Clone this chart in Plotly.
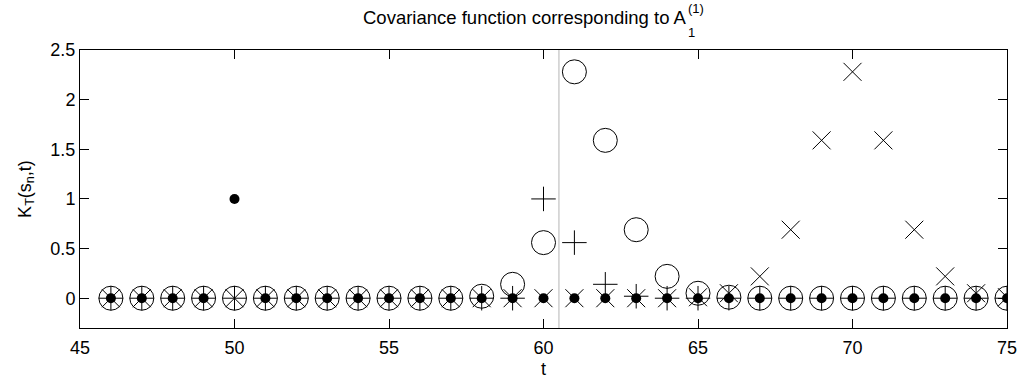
import plotly.graph_objects as go

# time index
t = list(range(46, 76))

# reference covariance (filled dots): unit value at t = 50
k_dot = [0, 0, 0, 0, 1, 0, 0, 0, 0, 0,
         0, 0, 0, 0, 0, 0, 0, 0, 0, 0,
         0, 0, 0, 0, 0, 0, 0, 0, 0, 0]

# plus markers
k_plus = [0, 0, 0, 0, 0, 0, 0, 0, 0, 0,
          0, 0, 0, 0, 1.0, 0.56, 0.14, 0.02, 0, 0,
          0, 0, 0, 0, 0, 0, 0, 0, 0, 0]

# open circles
k_circ = [0, 0, 0, 0, 0, 0, 0, 0, 0, 0,
          0, 0, 0.02, 0.14, 0.56, 2.28, 1.59, 0.69, 0.22, 0.05,
          0.01, 0, 0, 0, 0, 0, 0, 0, 0, 0]

# crosses
k_x = [0, 0, 0, 0, 0, 0, 0, 0, 0, 0,
       0, 0, 0, 0, 0, 0, 0, 0, 0, 0.01,
       0.05, 0.22, 0.69, 1.59, 2.28, 1.59, 0.69, 0.22, 0.05, 0.01]

split_t = 60.5

FONT = "Liberation Sans, Arial, Helvetica, sans-serif"
W, H = 1023, 379
L, R, T, B = 80, 16, 50, 51
PW, PH = W - L - R, H - T - B

fig = go.Figure()
fig.add_trace(go.Scatter(x=t, y=k_circ, mode="markers", name="circle",
                         marker=dict(symbol="circle-open", size=24, color="black",
                                     line=dict(width=1, color="black"))))
fig.add_trace(go.Scatter(x=t, y=k_plus, mode="markers", name="plus",
                         marker=dict(symbol="cross-thin-open", size=17.5, color="black",
                                     line=dict(width=1, color="black"))))
fig.add_trace(go.Scatter(x=t, y=k_x, mode="markers", name="x",
                         marker=dict(symbol="x-thin-open", size=18, color="black",
                                     line=dict(width=1, color="black"))))
fig.add_trace(go.Scatter(x=t, y=k_dot, mode="markers", name="dot",
                         marker=dict(symbol="circle", size=10, color="black",
                                     line=dict(width=0))))

# vertical separator
fig.add_shape(type="line", xref="x", yref="paper", x0=split_t, x1=split_t, y0=0, y1=1,
              line=dict(color="#b4b4b4", width=1), layer="below")


def px_x(p):
    return (p - L) / PW


def px_y(p):
    return 1 + (T - p) / PH


# title with stacked sub/superscript on A
fig.add_annotation(text="Covariance function corresponding to A", xref="paper", yref="paper",
                   x=px_x(688), y=px_y(17), xanchor="right", yanchor="middle", borderpad=0,
                   showarrow=False, font=dict(family=FONT, size=18.5, color="#000000"))
fig.add_annotation(text="(1)", xref="paper", yref="paper",
                   x=px_x(687), y=px_y(8), xanchor="left", yanchor="middle", borderpad=0,
                   showarrow=False, font=dict(family=FONT, size=13, color="#000000"))
fig.add_annotation(text="1", xref="paper", yref="paper",
                   x=px_x(687), y=px_y(33), xanchor="left", yanchor="middle", borderpad=0,
                   showarrow=False, font=dict(family=FONT, size=13, color="#000000"))

axis_common = dict(showline=True, linecolor="black", linewidth=1, mirror="ticks",
                   ticks="inside", ticklen=9, tickwidth=1, tickcolor="black",
                   showgrid=False, zeroline=False, automargin=False,
                   tickfont=dict(family=FONT, size=18, color="black"))

fig.update_xaxes(range=[45, 75], tickvals=[45, 50, 55, 60, 65, 70, 75], ticklabelstandoff=3,
                 title=dict(text="t", font=dict(family=FONT, size=18, color="black"), standoff=6),
                 **axis_common)
fig.update_yaxes(range=[-0.3, 2.5], tickvals=[0, 0.5, 1, 1.5, 2, 2.5],
                 ticktext=["0", "0.5", "1", "1.5", "2", "2.5"],
                 title=dict(text="K<sub>T</sub>(s<sub>n</sub>,t)",
                            font=dict(family=FONT, size=18, color="black"), standoff=14),
                 **axis_common)

fig.update_layout(width=W, height=H, margin=dict(l=L, r=R, t=T, b=B, pad=0),
                  plot_bgcolor="white", paper_bgcolor="white", showlegend=False,
                  font=dict(family=FONT, size=18, color="black"))

fig.write_html("out.html")
